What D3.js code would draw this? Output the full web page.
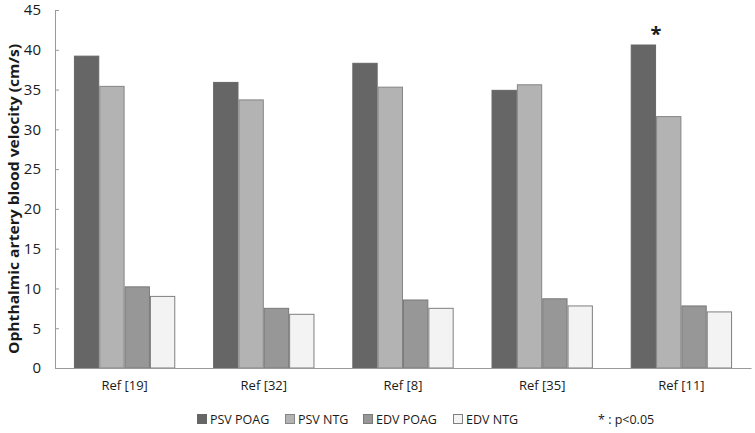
<!DOCTYPE html>
<html>
<head>
<meta charset="utf-8">
<script src="https://cdn.jsdelivr.net/npm/d3@7"></script>
<style>
  body { margin: 0; background: #fff; }
  svg text { font-family: "Open Sans", "Noto Sans", sans-serif; fill: #1a1a1a; }
</style>
</head>
<body>
<div id="chart"></div>
<script>
// Data
var refs = ["Ref [19]", "Ref [32]", "Ref [8]", "Ref [35]", "Ref [11]"];
var seriesNames = ["PSV POAG", "PSV NTG", "EDV POAG", "EDV NTG"];
var psvPoag = [39.2, 35.9, 38.3, 34.9, 40.6];
var psvNtg = [35.4, 33.7, 35.3, 35.6, 31.6];
var edvPoag = [10.2, 7.5, 8.55, 8.7, 7.8];
var edvNtg = [9.0, 6.75, 7.5, 7.8, 7.05];
var yTicks = [0, 5, 10, 15, 20, 25, 30, 35, 40, 45];
var significant = ["Ref [11]"];

var seriesValues = [psvPoag, psvNtg, edvPoag, edvNtg];
var fills = ["#666666", "#b3b3b3", "#979797", "#f3f3f3"];
var strokes = ["#666666", "#858585", "#7a7a7a", "#7f7f7f"];

var svgWidth = 755, svgHeight = 433;
var margin = { top: 10, right: 4, bottom: 65, left: 55 };
var chartWidth = svgWidth - margin.left - margin.right;
var chartHeight = svgHeight - margin.top - margin.bottom;

var svg = d3.select("#chart").append("svg")
  .attr("width", svgWidth)
  .attr("height", svgHeight);

var chart = svg.append("g")
  .attr("transform", "translate(" + margin.left + "," + margin.top + ")");

var x0 = d3.scaleBand().domain(refs).range([0, chartWidth]).paddingInner(0.272).paddingOuter(0.136);
var x1 = d3.scaleBand().domain(seriesNames).range([0, x0.bandwidth()]);
var y = d3.scaleLinear().domain([0, 45]).range([chartHeight, 0]);

// bars
var groups = chart.selectAll("g.grp")
  .data(refs)
  .enter().append("g")
  .attr("class", "grp")
  .attr("transform", function(d) { return "translate(" + x0(d) + ",0)"; });

groups.selectAll("rect")
  .data(function(d, i) {
    return seriesNames.map(function(s, j) { return { s: s, j: j, v: seriesValues[j][i] }; });
  })
  .enter().append("rect")
  .attr("x", function(d) { return x1(d.s) + 0.5; })
  .attr("y", function(d) { return y(d.v); })
  .attr("width", x1.bandwidth() - 1)
  .attr("height", function(d) { return chartHeight - y(d.v); })
  .attr("fill", function(d) { return fills[d.j]; })
  .attr("stroke", function(d) { return strokes[d.j]; })
  .attr("stroke-width", 1);

// significance marker
significant.forEach(function(r) {
  var i = refs.indexOf(r);
  var top = Math.max(psvPoag[i], psvNtg[i]);
  chart.append("text")
    .attr("x", x0(r) + x1("PSV NTG"))
    .attr("y", y(top) - 4)
    .attr("text-anchor", "middle")
    .style("font-size", "20px")
    .style("font-weight", "bold")
    .text("*");
});

// y axis
var leftAxis = d3.axisLeft(y).tickValues(yTicks).tickSizeInner(-4).tickSizeOuter(0).tickPadding(14);
var yAxisG = chart.append("g").call(leftAxis);
yAxisG.select(".domain").attr("stroke", "#9a9a9a");
yAxisG.selectAll(".tick line").attr("stroke", "#9a9a9a");
yAxisG.selectAll(".tick text").style("font-size", "15px").attr("fill", "#1a1a1a");

// x axis
var bottomAxis = d3.axisBottom(x0).tickSize(0).tickPadding(13);
var xAxisG = chart.append("g")
  .attr("transform", "translate(0," + chartHeight + ")")
  .call(bottomAxis);
xAxisG.select(".domain").attr("stroke", "#9a9a9a");
xAxisG.selectAll(".tick text").style("font-size", "13px").attr("fill", "#1a1a1a");

// y axis label
svg.append("text")
  .attr("transform", "rotate(-90)")
  .attr("x", -(margin.top + chartHeight / 2) - 10)
  .attr("y", 19)
  .attr("text-anchor", "middle")
  .style("font-size", "14.5px")
  .style("font-weight", "bold")
  .attr("textLength", 310)
  .attr("lengthAdjust", "spacingAndGlyphs")
  .text("Ophthalmic artery blood velocity (cm/s)");

// legend
var legendX = [197, 285, 363, 453];
var legend = svg.append("g");
seriesNames.forEach(function(s, j) {
  legend.append("rect")
    .attr("x", legendX[j] + 0.5)
    .attr("y", 414.5)
    .attr("width", 9)
    .attr("height", 9)
    .attr("fill", fills[j])
    .attr("stroke", strokes[j]);
  legend.append("text")
    .attr("x", legendX[j] + 13)
    .attr("y", 423.5)
    .style("font-size", "12.5px")
    .text(s);
});
legend.append("text")
  .attr("x", 598)
  .attr("y", 424)
  .style("font-size", "12.5px")
  .text("* : p<0.05");
</script>
</body>
</html>
